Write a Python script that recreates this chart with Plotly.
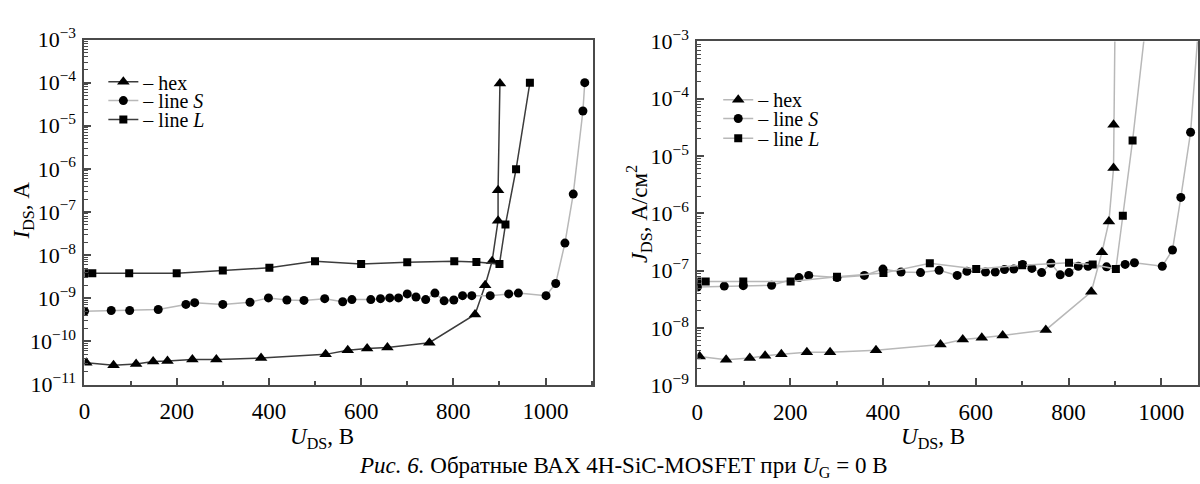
import plotly.graph_objects as go

# ---------------- data: left panel (I_DS, A) ----------------
hex_I_x = [4, 63, 112, 149, 180, 234, 286, 383, 523, 571, 613, 657, 748, 847, 869, 884, 897, 897, 901]
hex_I_y = [3.2e-11, 2.8e-11, 3.0e-11, 3.4e-11, 3.5e-11, 3.8e-11, 3.8e-11, 4.1e-11, 5.0e-11, 6.2e-11,
           6.8e-11, 7.2e-11, 9.3e-11, 4.2e-10, 2.0e-9, 7.2e-9, 6.3e-8, 3.2e-7, 9.5e-5]

lineS_I_x = [0, 58, 98, 160, 220, 239, 300, 359, 399, 439, 476, 521, 560, 580, 621, 642, 662, 681, 700,
             719, 740, 760, 780, 801, 820, 840, 880, 920, 941, 1001, 1022, 1042, 1060, 1081, 1085]
lineS_I_y = [5.0e-10, 5.2e-10, 5.2e-10, 5.5e-10, 7.2e-10, 7.9e-10, 7.2e-10, 8.1e-10, 1.02e-9, 9.1e-10,
             8.9e-10, 9.8e-10, 8.3e-10, 9.3e-10, 9.3e-10, 9.8e-10, 1.02e-9, 1.02e-9, 1.26e-9, 1.07e-9,
             9.3e-10, 1.32e-9, 8.7e-10, 9.1e-10, 1.15e-9, 1.15e-9, 1.15e-9, 1.26e-9, 1.32e-9, 1.15e-9,
             2.2e-9, 1.9e-8, 2.6e-7, 2.2e-5, 1.0e-4]

lineL_I_x = [0, 17, 97, 200, 300, 401, 500, 600, 700, 802, 850, 900, 913, 936, 966]
lineL_I_y = [3.8e-9, 3.8e-9, 3.8e-9, 3.8e-9, 4.4e-9, 5.1e-9, 7.2e-9, 6.2e-9, 6.8e-9, 7.2e-9, 6.9e-9,
             6.2e-9, 5.1e-8, 9.8e-7, 1.0e-4]

# ---------------- data: right panel (J_DS, A/cm2) ----------------
hex_J_x = [5, 62, 113, 146, 181, 236, 286, 385, 524, 572, 613, 658, 751, 849, 872, 887, 897, 897, 901]
hex_J_y = [3.2e-9, 2.8e-9, 3.0e-9, 3.3e-9, 3.5e-9, 3.8e-9, 3.8e-9, 4.1e-9, 5.2e-9, 6.3e-9, 6.8e-9,
           7.4e-9, 9.3e-9, 4.3e-8, 2.1e-7, 7.2e-7, 6.2e-6, 3.5e-5, 9.5e-3]

lineS_J_x = [0, 58, 99, 160, 219, 240, 301, 360, 400, 439, 481, 521, 560, 581, 621, 642, 662, 682, 701,
             721, 742, 762, 782, 801, 821, 842, 882, 922, 942, 1002, 1024, 1042, 1063, 1081, 1085]
lineS_J_y = [5.2e-8, 5.4e-8, 5.5e-8, 5.6e-8, 7.6e-8, 8.3e-8, 7.6e-8, 8.3e-8, 1.07e-7, 9.5e-8, 9.3e-8,
             1.02e-7, 8.3e-8, 9.8e-8, 9.5e-8, 9.5e-8, 1.05e-7, 1.07e-7, 1.29e-7, 1.10e-7, 9.3e-8,
             1.35e-7, 8.5e-8, 9.3e-8, 1.2e-7, 1.2e-7, 1.17e-7, 1.29e-7, 1.38e-7, 1.2e-7, 2.3e-7,
             1.9e-6, 2.6e-5, 2.3e-3, 1.05e-2]

lineL_J_x = [0, 18, 99, 201, 301, 401, 501, 601, 700, 801, 852, 902, 917, 938, 966]
lineL_J_y = [6.5e-8, 6.5e-8, 6.5e-8, 6.5e-8, 7.9e-8, 9.1e-8, 1.35e-7, 1.07e-7, 1.25e-7, 1.38e-7,
             1.29e-7, 1.07e-7, 9.1e-7, 1.86e-5, 1.9e-3]

names = ["– hex", "– line <i>S</i>", "– line <i>L</i>"]
symbols = ["triangle-up", "circle", "square"]
marker_sizes = [11, 9, 8]

FONT = "Liberation Serif"
DARK = "#3c3c3c"
LIGHT = "#b8b8b8"
AXC = "#4a4a4a"

W, H = 1200, 484

fig = go.Figure()

left_sets = [(hex_I_x, hex_I_y, DARK), (lineS_I_x, lineS_I_y, LIGHT), (lineL_I_x, lineL_I_y, DARK)]
for i, ((xs, ys, col), nm, sym, ms) in enumerate(zip(left_sets, names, symbols, marker_sizes)):
    fig.add_trace(go.Scatter(x=xs, y=ys, mode="lines+markers", name=nm,
                             line=dict(color=col, width=1.5),
                             marker=dict(symbol=sym, size=ms, color="black"),
                             xaxis="x", yaxis="y",
                             legend="legend" if i == 0 else "legend%d" % (i + 1)))

right_sets = [(hex_J_x, hex_J_y), (lineS_J_x, lineS_J_y), (lineL_J_x, lineL_J_y)]
for i, ((xs, ys), nm, sym, ms) in enumerate(zip(right_sets, names, symbols, marker_sizes)):
    fig.add_trace(go.Scatter(x=xs, y=ys, mode="lines+markers", name=nm,
                             line=dict(color=LIGHT, width=1.5),
                             marker=dict(symbol=sym, size=ms, color="black"),
                             xaxis="x2", yaxis="y2", legend="legend%d" % (i + 4)))


def log_ticks(lo, hi):
    vals = [10.0 ** k for k in range(lo, hi + 1)]
    text = ["10<sup>−%d</sup>" % (-k) for k in range(lo, hi + 1)]
    minor = [m * 10.0 ** k for k in range(lo, hi) for m in range(2, 10)]
    return vals, text, minor


x_tick_font = dict(family=FONT, size=23, color="black")
y_tick_font = dict(family=FONT, size=22, color="black")

common_x = dict(showline=True, linecolor=AXC, linewidth=2, mirror=True, showgrid=False, zeroline=False,
                ticks="inside", ticklen=7, tickwidth=1.5, tickcolor=AXC, dtick=200, tick0=0,
                tickfont=x_tick_font, ticklabelstandoff=5,
                minor=dict(ticks="inside", ticklen=4, tickwidth=1.5, tickcolor=AXC, dtick=100, showgrid=False))

v1, t1, m1 = log_ticks(-11, -3)
v2, t2, m2 = log_ticks(-9, -3)

common_y = dict(type="log", showline=True, linecolor=AXC, linewidth=2, mirror=True, showgrid=False,
                zeroline=False, ticks="inside", ticklen=7, tickwidth=1.5, tickcolor=AXC,
                tickfont=y_tick_font, ticklabelstandoff=2)

legend_font = dict(family=FONT, size=20, color="black")
legend_rows = [(98, 70), (98, 90), (98, 110), (717, 89), (717, 109), (717, 130)]
legends = {}
for i, (lx, ly) in enumerate(legend_rows):
    key = "legend" if i == 0 else "legend%d" % (i + 1)
    legends[key] = dict(x=lx / W, y=1 - ly / H, xanchor="left", yanchor="middle",
                        bgcolor="rgba(0,0,0,0)", font=legend_font, borderwidth=0)

fig.update_layout(
    width=W, height=H,
    margin=dict(l=0, r=0, t=0, b=0),
    paper_bgcolor="white", plot_bgcolor="white",
    font=dict(family=FONT, color="black"),
    xaxis=dict(domain=[79 / W, 591 / W], range=[0, 1103], anchor="y", **common_x),
    yaxis=dict(domain=[1 - 392 / H, 1 - 25 / H], range=[-11, -3], anchor="x",
               tickmode="array", tickvals=v1, ticktext=t1,
               minor=dict(ticks="inside", ticklen=4, tickwidth=1, tickcolor=AXC, tickvals=m1, showgrid=False),
               **common_y),
    xaxis2=dict(domain=[696 / W, 1.0], range=[0, 1079], anchor="y2", **common_x),
    yaxis2=dict(domain=[1 - 393 / H, 1 - 27 / H], range=[-9, -3], anchor="x2",
                tickmode="array", tickvals=v2, ticktext=t2,
                minor=dict(ticks="inside", ticklen=4, tickwidth=1, tickcolor=AXC, tickvals=m2, showgrid=False),
                **common_y),
    showlegend=True,
    **legends,
)

ann_font = dict(family=FONT, size=23, color="black")
fig.add_annotation(text="<i>I</i><sub>DS</sub>, А", x=17 / W, y=1 - 207 / H, xref="paper", yref="paper",
                   textangle=-90, showarrow=False, font=ann_font, xanchor="center", yanchor="middle")
fig.add_annotation(text="<i>J</i><sub>DS</sub>, А/см<sup>2</sup>", x=637 / W, y=1 - 211 / H,
                   xref="paper", yref="paper", textangle=-90, showarrow=False, font=ann_font,
                   xanchor="center", yanchor="middle")
fig.add_annotation(text="<i>U</i><sub>DS</sub>, В", x=318 / W, y=1 - 449 / H, xref="paper", yref="paper",
                   showarrow=False, font=ann_font, xanchor="center", yanchor="middle")
fig.add_annotation(text="<i>U</i><sub>DS</sub>, В", x=933 / W, y=1 - 449 / H, xref="paper", yref="paper",
                   showarrow=False, font=ann_font, xanchor="center", yanchor="middle")
fig.add_annotation(text="<i>Рис. 6.</i> Обратные ВАХ 4H-SiC-MOSFET при <i>U</i><sub>G</sub> = 0 В",
                   x=622 / W, y=1 - 480 / H, xref="paper", yref="paper",
                   showarrow=False, font=ann_font, xanchor="center", yanchor="middle")

fig.write_html("out.html")
